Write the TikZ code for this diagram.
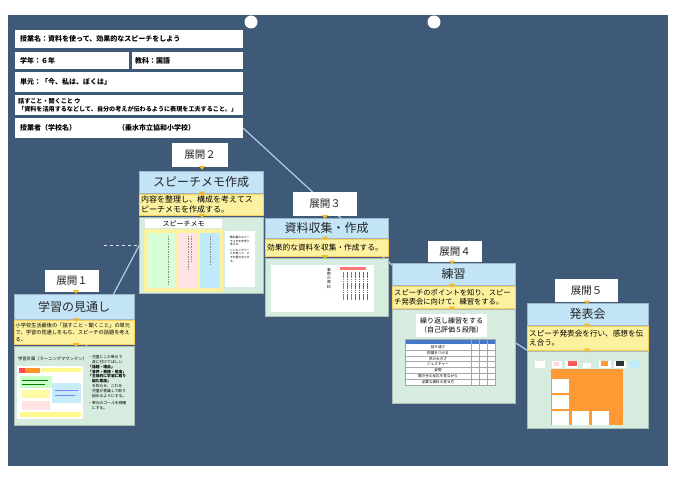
\documentclass[tikz,border=0pt]{standalone}
\usepackage{fontspec}
\setmainfont{Noto Sans CJK JP}
\XeTeXlinebreaklocale "ja"
\XeTeXlinebreakskip=0pt plus 1pt
\definecolor{bgblue}{RGB}{62,90,120}
\definecolor{ttl}{RGB}{196,228,247}
\definecolor{ylw}{RGB}{252,241,158}
\definecolor{pnl}{RGB}{214,236,222}
\definecolor{arr}{RGB}{245,185,30}
\definecolor{stair}{RGB}{178,205,228}
\definecolor{tblue}{RGB}{70,120,200}
\newcommand{\bx}[7]{%
 \pgfmathsetmacro{\bxw}{#5-#3}\pgfmathsetmacro{\bxh}{#6-#4}%
 \pgfmathsetmacro{\bxcx}{(#3+#5)/2}\pgfmathsetmacro{\bxcy}{(#4+#6)/2}%
 \node[#1, minimum width=\bxw pt, minimum height=\bxh pt] (#2) at (\bxcx,\bxcy) {#7};}
\newcommand{\arw}[2]{\fill[arr] (#1-3,#2-1.8) -- (#1+3,#2-1.8) -- (#1,#2+1.8) -- cycle;}
\begin{document}
\begin{tikzpicture}[x=1pt,y=-1pt,
  base/.style={rectangle, inner sep=0pt, outer sep=0pt},
  hdr/.style={base, fill=white},
  htxt/.style={anchor=west, inner sep=0pt, font=\fontsize{7}{8}\selectfont\bfseries},
  lblbox/.style={base, fill=white, font=\fontsize{10.5}{12}\selectfont, text=black!85},
  ttlbox/.style={base, fill=ttl, draw=ttl!80!black, line width=0.3pt, font=\fontsize{12}{14}\selectfont, text=black!85},
  ybox/.style={base, fill=ylw, draw=arr!70, line width=0.4pt},
  ytxt/.style={anchor=west, inner sep=0pt, align=left},
  pbox/.style={base, fill=pnl, draw=pnl!80!black, line width=0.3pt},
  stairline/.style={draw=stair, line width=1.2pt},
  tiny/.style={inner sep=0pt, align=left}
]
\useasboundingbox (0,0) rectangle (680,481);
\fill[white] (0,0) rectangle (680,481);
\fill[bgblue] (8,15) rectangle (668,466);
\fill[white] (251,22) circle (6.5pt);
\fill[white] (434,22) circle (6.5pt);

% stair lines
\coordinate (s1) at (243,128);
\coordinate (s2) at (392,265);
\coordinate (s3) at (530,352);
\coordinate (u1) at (83,352);
\coordinate (u2) at (141,242);
\draw[stairline] (s1) -- (s2) -- (s3);
\draw[stairline] (u1) -- (u2);
\coordinate (d1) at (104,245);
\coordinate (d2) at (137,245);
\draw[white!85!bgblue, dashed, line width=0.6pt] (d1) -- (d2);

% header
\bx{hdr}{h1}{15}{30}{243}{48}{}
\node[htxt] at ([xshift=5pt]h1.west) {授業名：資料を使って、効果的なスピーチをしよう};
\bx{hdr}{h2a}{15}{52}{129}{69}{}
\node[htxt] at ([xshift=5pt]h2a.west) {学年：６年};
\bx{hdr}{h2b}{132}{52}{243}{69}{}
\node[htxt] at ([xshift=3pt]h2b.west) {教科：国語};
\bx{hdr}{h3}{15}{72}{243}{92}{}
\node[htxt] at ([xshift=5pt]h3.west) {単元：「今、私は、ぼくは」};
\bx{hdr}{h4}{15}{95}{243}{115}{}
\node[htxt, align=left, font=\fontsize{6.1}{7.6}\selectfont\bfseries] at ([xshift=3pt]h4.west) {話すこと・聞くこと ウ\\「資料を活用するなどして、自分の考えが伝わるように表現を工夫すること。」};
\bx{hdr}{h5}{15}{118}{243}{138}{}
\node[htxt] at ([xshift=5pt]h5.west) {授業者（学校名）};
\node[htxt] at (118,128) {（垂水市立協和小学校）};

% ===== Expand 1
\bx{lblbox}{L1}{45}{270}{99}{292}{展開１}
\bx{ttlbox}{T1}{14}{294}{134}{319}{学習の見通し}
\bx{ybox}{Y1}{14}{320}{134}{344}{}
\node[ytxt, font=\fontsize{5.2}{7}\selectfont] at ([xshift=1.5pt]Y1.west) {小学校生活最後の「話すこと・聞くこと」の単元\\で、学習の見通しをもち、スピーチの話題を考え\\る。};
\bx{pbox}{P1}{14}{346}{134}{425}{}
\node[anchor=west, tiny, font=\fontsize{4.3}{5}\selectfont] at (18,359) {学習計画（ラーニングマウンテン）};
\fill[white] (17,366) rectangle (83,419);
\fill[orange!85] (19,368) rectangle (40,373);
\fill[red!70] (19,368) rectangle (25,373);
\fill[yellow!45] (41,368) rectangle (81,372);
\fill[green!22] (20,376) rectangle (52,388);
\fill[cyan!22] (52,383) rectangle (81,403);
\fill[yellow!35] (22,390) rectangle (50,398);
\fill[pink!45] (22,401) rectangle (50,410);
\fill[yellow!45] (20,412) rectangle (81,417);
\draw[green!50!black, line width=0.3pt] (22,380) -- (48,380) (22,384) -- (45,384);
\draw[blue!50, line width=0.3pt] (55,390) -- (78,390) (55,395) -- (75,395);
\node[anchor=north west, tiny, font=\fontsize{3.8}{4.9}\selectfont] at (88,355) {・児童にこの単元で\\　身に付けてほしい\\\textbf{「話題・理由」}\\\textbf{「音声・表情・態度」}\\\textbf{「主体的に学習に取り}\\\textbf{　組む態度」}\\　を知らせ、これを\\　児童が意識して取り\\　組めるようにする。\\[2pt]・単元のゴールを明確\\　にする。};

% ===== Expand 2
\bx{lblbox}{L2}{172}{143}{228}{167}{展開２}
\bx{ttlbox}{T2}{139}{171}{263}{193}{スピーチメモ作成}
\bx{ybox}{Y2}{139}{194}{263}{215}{}
\node[ytxt, font=\fontsize{8}{10}\selectfont] at ([xshift=2pt]Y2.west) {内容を整理し、構成を考えてス\\ピーチメモを作成する。};
\bx{pbox}{P2}{139}{217}{263}{293}{}
\fill[white] (145,219) rectangle (222,228);
\node[font=\fontsize{7}{8}\selectfont, inner sep=0pt] at (183.5,223.5) {スピーチメモ};
\fill[ylw] (144,229) rectangle (223,292);
\fill[green!15] (148,233) rectangle (175,288);
\fill[pink!45] (177,233) rectangle (198,288);
\fill[cyan!25] (200,233) rectangle (220,288);
\draw[black!45, line width=0.4pt, dash pattern=on 1.5pt off 1pt] (168,236) -- (168,285) (188,236) -- (188,270) (210,236) -- (210,265);
\draw[red!60, line width=0.3pt, dash pattern=on 1.5pt off 1pt] (191,236) -- (191,262);
\fill[white] (225,231) rectangle (255,287);
\node[anchor=north west, tiny, font=\fontsize{2.8}{3.6}\selectfont] at (227,236) {・教科書のスピー\\　チメモを参考に\\　考える。\\[2pt]・シンキングツー\\　ルを使って、メ\\　モを書き出させ\\　る。};

% ===== Expand 3
\bx{lblbox}{L3}{293}{192}{357}{216}{展開３}
\bx{ttlbox}{T3}{265}{218}{388}{238}{資料収集・作成}
\bx{ybox}{Y3}{265}{239}{388}{256}{}
\node[ytxt, font=\fontsize{7.7}{9}\selectfont] at ([xshift=2pt]Y3.west) {効果的な資料を収集・作成する。};
\bx{pbox}{P3}{265}{258}{388}{316}{}
\fill[white] (271,265) rectangle (374,312);
\node[anchor=north, tiny, align=center, font=\fontsize{3.8}{4.2}\selectfont] at (329,268) {事\\例\\の\\資\\料};
\fill[red!55] (340,267) rectangle (366,270);
\foreach \xx/\cc in {343/red!70,347/black!60,351/red!70,355/black!60,359/black!60,363/black!60,367/black!60}
  \draw[\cc, line width=0.5pt, dash pattern=on 1.6pt off 0.6pt] (\xx,272) -- (\xx,300);

% ===== Expand 4
\bx{lblbox}{L4}{428}{241}{482}{262}{展開４}
\bx{ttlbox}{T4}{392}{263}{515}{285}{練習}
\bx{ybox}{Y4}{392}{286}{515}{308}{}
\node[ytxt, font=\fontsize{7.3}{9.5}\selectfont] at ([xshift=2pt]Y4.west) {スピーチのポイントを知り、スピー\\チ発表会に向けて、練習をする。};
\bx{pbox}{P4}{392}{309}{515}{403}{}
\fill[white] (416,314) rectangle (487,337);
\node[align=center, inner sep=0pt, font=\fontsize{7}{9}\selectfont] at (451.5,325.5) {繰り返し練習をする\\（自己評価５段階）};
\fill[white] (405,339) rectangle (495,385);
\fill[tblue] (405,339) rectangle (495,344);
\foreach \i/\t in {0/話す速さ,1/抑揚をつける,2/声の大きさ,3/ジェスチャー,4/姿勢,5/聞き手の反応を見ながら,6/必要な資料の見せ方} {
  \draw[black!35, line width=0.3pt] (405,344+5.857*\i+5.857) -- (495,344+5.857*\i+5.857);
  \node[inner sep=0pt, font=\fontsize{3.6}{4}\selectfont] at (438,344+5.857*\i+2.93) {\t};
}
\draw[black!35, line width=0.3pt] (405,339) rectangle (495,385);
\foreach \xx in {471,479,487} \draw[black!35, line width=0.3pt] (\xx,339) -- (\xx,385);

% ===== Expand 5
\bx{lblbox}{L5}{555}{279}{618}{302}{展開５}
\bx{ttlbox}{T5}{527}{303}{648}{325}{発表会}
\bx{ybox}{Y5}{527}{326}{648}{350}{}
\node[ytxt, font=\fontsize{7.6}{9.5}\selectfont] at ([xshift=2pt]Y5.west) {スピーチ発表会を行い、感想を伝\\え合う。};
\bx{pbox}{P5}{527}{351}{648}{428}{}
\fill[white] (535,361) rectangle (545,368);
\fill[white] (552,361) rectangle (562,368);
\fill[pink!60] (554,362) rectangle (559,366);
\fill[white] (565,361) rectangle (578,368);
\fill[red!65] (568,361) rectangle (577,366);
\fill[white] (583,363) rectangle (591,368);
\fill[white] (599,361) rectangle (611,368);
\fill[orange!80] (601,361) rectangle (608,366);
\fill[white] (614,361) rectangle (626,368);
\fill[black!80] (616,361) rectangle (624,366);
\fill[cyan!25] (630,361) rectangle (640,368);
\fill[orange!80] (551,369) rectangle (623,425);
\fill[white] (552,379) rectangle (569,393);
\fill[white] (552,395) rectangle (569,409);
\fill[white] (552,411) rectangle (569,425);
\fill[white] (572,411) rectangle (589,425);
\fill[white] (592,411) rectangle (609,425);

% arrows
\arw{76}{292}\arw{76}{320}\arw{76}{345}
\arw{202}{168}\arw{202}{193.5}\arw{202}{216}
\arw{325}{217}\arw{325}{238.5}\arw{325}{257}
\arw{452}{262.5}\arw{452}{285.5}\arw{452}{308.5}
\arw{587}{302.5}\arw{587}{325.5}\arw{587}{350.5}
\end{tikzpicture}
\end{document}
